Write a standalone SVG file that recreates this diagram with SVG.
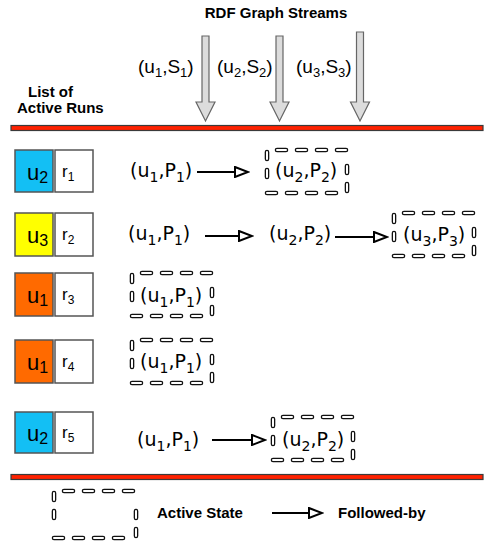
<svg xmlns="http://www.w3.org/2000/svg" width="484" height="545" viewBox="0 0 484 545">
<defs>
<style>
.bg{fill:#fff}
.title{font-family:"Liberation Sans",Arial,sans-serif;font-weight:bold;font-size:15px;fill:#000}
.lab{font-family:"Liberation Sans",Arial,sans-serif;font-size:19px;fill:#000}
.pl{font-family:"DejaVu Sans",sans-serif;font-size:19px;fill:#000}
.sub{font-size:14px}
.ls{font-size:13px}
.ubox{stroke:#555;stroke-width:1.5}
.rbox{fill:#fff;stroke:#555;stroke-width:1.5}
.ut{font-family:"Liberation Sans",Arial,sans-serif;font-size:22px;fill:#000}
.us{font-size:16px}
.rt{font-family:"Liberation Sans",Arial,sans-serif;font-size:17px;fill:#000}
.rs{font-size:12px}
.bar{fill:#ff2200;stroke:#3a3a3a;stroke-width:1.2}
.big{fill:#dcdcdc;stroke:#666;stroke-width:1.2}
.fl{stroke:#000;stroke-width:2.2;fill:none;marker-end:url(#tri)}
.ha{fill:none;stroke:#111;stroke-width:4.6;stroke-dasharray:9 11;stroke-linecap:round}
.hb{fill:none;stroke:#fff;stroke-width:2;stroke-dasharray:9 11;stroke-linecap:round}
.va{fill:none;stroke:#111;stroke-width:4.6;stroke-dasharray:7 11;stroke-linecap:round}
.vb{fill:none;stroke:#fff;stroke-width:2;stroke-dasharray:7 11;stroke-linecap:round}
</style>
<marker id="tri" markerUnits="userSpaceOnUse" markerWidth="16" markerHeight="12" refX="13" refY="5" orient="auto" viewBox="-1 -1 16 12">
<path d="M0,0 L13,5 L0,10 Z" fill="#fff" stroke="#000" stroke-width="2"/>
</marker>
<g id="dbox">
<path class="ha" d="M10,0 H80 M0,43 H70"/>
<path class="va" d="M0,2 V28 M80,41 V13"/>
<path class="hb" d="M10,0 H80 M0,43 H70"/>
<path class="vb" d="M0,2 V28 M80,41 V13"/>
</g>
</defs>
<rect class="bg" x="0" y="0" width="484" height="545"/>

<g id="header">
<text class="title" x="276" y="18" text-anchor="middle">RDF Graph Streams</text>
<text class="title" x="28" y="97">List of</text>
<text class="title" x="17" y="113">Active Runs</text>
</g>

<g id="streams">
<polygon class="big" points="202,36 209,36 209,102 215,102 205.5,121 196,102 202,102"/>
<polygon class="big" points="276,36 283,36 283,102 289,102 279.5,121 270,102 276,102"/>
<polygon class="big" points="356.5,32 363.5,32 363.5,102 369.5,102 360,121 350.5,102 356.5,102"/>
<text class="lab" x="138" y="73">(u<tspan class="ls" dy="4">1</tspan><tspan dy="-4">,S</tspan><tspan class="ls" dy="4">1</tspan><tspan dy="-4">)</tspan></text>
<text class="lab" x="217" y="73">(u<tspan class="ls" dy="4">2</tspan><tspan dy="-4">,S</tspan><tspan class="ls" dy="4">2</tspan><tspan dy="-4">)</tspan></text>
<text class="lab" x="296" y="73">(u<tspan class="ls" dy="4">3</tspan><tspan dy="-4">,S</tspan><tspan class="ls" dy="4">3</tspan><tspan dy="-4">)</tspan></text>
</g>

<g id="bars">
<rect class="bar" x="11" y="125.5" width="472" height="5"/>
<rect class="bar" x="11" y="474.5" width="472" height="5"/>
</g>

<g id="run1">
<rect class="ubox" x="15" y="150" width="38" height="42" fill="#13bff4"/>
<rect class="rbox" x="55" y="150" width="38" height="42"/>
<text class="ut" x="27" y="180">u<tspan class="us" dy="3">2</tspan></text>
<text class="rt" x="62" y="177">r<tspan class="rs" dy="4">1</tspan></text>
</g>
<g id="run2">
<rect class="ubox" x="15" y="213" width="38" height="43" fill="#ffff00"/>
<rect class="rbox" x="55" y="213" width="38" height="43"/>
<text class="ut" x="27" y="243">u<tspan class="us" dy="3">3</tspan></text>
<text class="rt" x="62" y="240">r<tspan class="rs" dy="4">2</tspan></text>
</g>
<g id="run3">
<rect class="ubox" x="15" y="273" width="38" height="43" fill="#ff6a00"/>
<rect class="rbox" x="55" y="273" width="38" height="43"/>
<text class="ut" x="27" y="303">u<tspan class="us" dy="3">1</tspan></text>
<text class="rt" x="62" y="300">r<tspan class="rs" dy="4">3</tspan></text>
</g>
<g id="run4">
<rect class="ubox" x="15" y="340" width="38" height="43" fill="#ff6a00"/>
<rect class="rbox" x="55" y="340" width="38" height="43"/>
<text class="ut" x="27" y="370">u<tspan class="us" dy="3">1</tspan></text>
<text class="rt" x="62" y="367">r<tspan class="rs" dy="4">4</tspan></text>
</g>
<g id="run5">
<rect class="ubox" x="15" y="412" width="38" height="41" fill="#13bff4"/>
<rect class="rbox" x="55" y="412" width="38" height="41"/>
<text class="ut" x="27" y="441">u<tspan class="us" dy="3">2</tspan></text>
<text class="rt" x="62" y="438">r<tspan class="rs" dy="4">5</tspan></text>
</g>

<g id="states">
<g id="s1a"><text class="pl" x="130" y="177">(u<tspan class="sub" dy="5">1</tspan><tspan dy="-5">,P</tspan><tspan class="sub" dy="5">1</tspan><tspan dy="-5">)</tspan></text></g>
<g id="s1b">
<use href="#dbox" x="267" y="150"/>
<text class="pl" x="275" y="177">(u<tspan class="sub" dy="5">2</tspan><tspan dy="-5">,P</tspan><tspan class="sub" dy="5">2</tspan><tspan dy="-5">)</tspan></text>
</g>
<g id="s2a"><text class="pl" x="128" y="240">(u<tspan class="sub" dy="5">1</tspan><tspan dy="-5">,P</tspan><tspan class="sub" dy="5">1</tspan><tspan dy="-5">)</tspan></text></g>
<g id="s2b"><text class="pl" x="269" y="240">(u<tspan class="sub" dy="5">2</tspan><tspan dy="-5">,P</tspan><tspan class="sub" dy="5">2</tspan><tspan dy="-5">)</tspan></text></g>
<g id="s2c">
<use href="#dbox" x="394" y="213"/>
<text class="pl" x="403" y="241">(u<tspan class="sub" dy="5">3</tspan><tspan dy="-5">,P</tspan><tspan class="sub" dy="5">3</tspan><tspan dy="-5">)</tspan></text>
</g>
<g id="s3a">
<use href="#dbox" x="132" y="273"/>
<text class="pl" x="140" y="302">(u<tspan class="sub" dy="5">1</tspan><tspan dy="-5">,P</tspan><tspan class="sub" dy="5">1</tspan><tspan dy="-5">)</tspan></text>
</g>
<g id="s4a">
<use href="#dbox" x="132" y="340"/>
<text class="pl" x="140" y="368">(u<tspan class="sub" dy="5">1</tspan><tspan dy="-5">,P</tspan><tspan class="sub" dy="5">1</tspan><tspan dy="-5">)</tspan></text>
</g>
<g id="s5a"><text class="pl" x="137" y="446">(u<tspan class="sub" dy="5">1</tspan><tspan dy="-5">,P</tspan><tspan class="sub" dy="5">1</tspan><tspan dy="-5">)</tspan></text></g>
<g id="s5b">
<use href="#dbox" x="273" y="417"/>
<text class="pl" x="282" y="446">(u<tspan class="sub" dy="5">2</tspan><tspan dy="-5">,P</tspan><tspan class="sub" dy="5">2</tspan><tspan dy="-5">)</tspan></text>
</g>
</g>

<g id="connectors">
<line class="fl" x1="197" y1="172" x2="248" y2="172"/>
<line class="fl" x1="205" y1="236" x2="252" y2="236"/>
<line class="fl" x1="335" y1="237" x2="387" y2="237"/>
<line class="fl" x1="212" y1="440" x2="265" y2="440"/>
</g>

<g id="legend">
<path class="ha" d="M64,491 H136 M54,538 H126"/>
<path class="va" d="M54,493 V522 M136,536 V505"/>
<path class="hb" d="M64,491 H136 M54,538 H126"/>
<path class="vb" d="M54,493 V522 M136,536 V505"/>
<text class="title" x="157" y="518">Active State</text>
<line class="fl" x1="272" y1="513" x2="322" y2="513"/>
<text class="title" x="338" y="518">Followed-by</text>
</g>
</svg>
